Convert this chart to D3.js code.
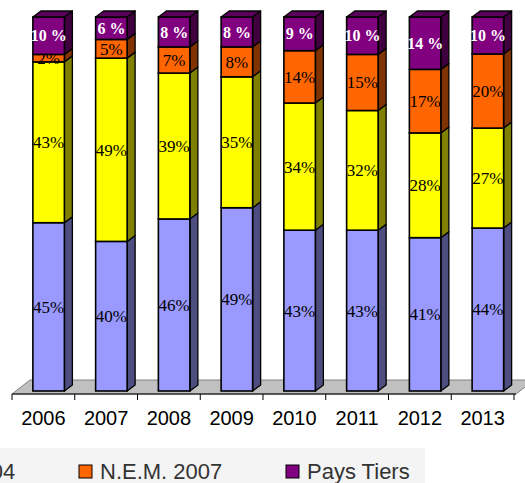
<!DOCTYPE html>
<html>
<meta charset="utf-8">
<style>
body { margin: 0; background: #fff; }
svg { display: block; }
text.year { font-family: 'Liberation Sans', Arial, sans-serif; font-size: 20px; fill: #000; }
text.value { font-family: 'Liberation Serif', 'Times New Roman', serif; font-size: 17px; fill: #000; }
text.value.top { font-weight: bold; font-size: 16px; fill: #fff; }
text.legend { font-family: 'Liberation Sans', Arial, sans-serif; font-size: 22px; fill: #333; }
</style>
<body>
<svg width="525" height="483"></svg>
<script src="https://cdn.jsdelivr.net/npm/d3@7"></script>
<script>

// years on the axis
var years = ["2006", "2007", "2008", "2009", "2010", "2011", "2012", "2013"];

// series, bottom to top
var seriesNames = ["Nationaux", "N.E.M. 2004", "N.E.M. 2007", "Pays Tiers"];
var nationaux = [45, 40, 46, 49, 43, 43, 41, 44];
var nem2004   = [43, 49, 39, 35, 34, 32, 28, 27];
var nem2007   = [2, 5, 7, 8, 14, 15, 17, 20];
var paysTiers = [10, 6, 8, 8, 9, 10, 14, 10];

var frontColors = ["#9999FF", "#FFFF00", "#FF6600", "#800080"];
var sideColors  = ["#4D4D80", "#808000", "#803300", "#400040"];

var svg = d3.select("svg");

var x = d3.scaleBand().domain(years).range([12, 514]).padding(0);
var y = d3.scaleLinear().domain([0, 1]).range([391, 17]);

var depth = {dx: 8, dy: -6};
var floorDepth = {dx: 18, dy: -14};
var barW = 31.5;

// table built from the series arrays
var values = [nationaux, nem2004, nem2007, paysTiers];
var table = years.map(function(yr, i) {
  var row = {year: yr};
  seriesNames.forEach(function(s, j) { row[s] = values[j][i]; });
  return row;
});

var stack = d3.stack().keys(seriesNames).offset(d3.stackOffsetExpand);
var stacked = stack(table);

// floor
var fy = 394, fx0 = x.range()[0], fx1 = x.range()[1] + 2;
svg.append("path")
  .attr("d", "M" + fx0 + "," + fy + "L" + fx1 + "," + fy +
        "L" + (fx1 + floorDepth.dx) + "," + (fy + floorDepth.dy) +
        "L" + (fx0 + floorDepth.dx) + "," + (fy + floorDepth.dy) + "Z")
  .attr("fill", "#C0C0C0")
  .attr("stroke", "#808080")
  .attr("stroke-width", 1);

// axis
var axis = svg.append("g").attr("transform", "translate(0," + fy + ")");
axis.append("line").attr("x1", fx0).attr("x2", fx1).attr("stroke", "#000").attr("stroke-width", 1.2);
var bounds = years.map(function(d) { return x(d); }).concat([x.range()[1]]);
axis.selectAll("line.tick").data(bounds).enter().append("line")
  .attr("class", "tick")
  .attr("x1", function(d) { return d; }).attr("x2", function(d) { return d; })
  .attr("y1", 0).attr("y2", 6)
  .attr("stroke", "#000");
axis.selectAll("text.year").data(years).enter().append("text")
  .attr("class", "year")
  .attr("x", function(d) { return x(d) + x.bandwidth() / 2; })
  .attr("y", 31)
  .attr("text-anchor", "middle")
  .text(function(d) { return d; });

// bars
years.forEach(function(yr, i) {
  var g = svg.append("g");
  var x0 = x(yr) + x.bandwidth() / 2 - 10.5;
  stacked.forEach(function(layer, j) {
    var seg = layer[i];
    var y0 = y(seg[0]), y1 = y(seg[1]);
    g.append("path")
      .attr("d", "M" + (x0 + barW) + "," + y1 +
            "L" + (x0 + barW + depth.dx) + "," + (y1 + depth.dy) +
            "L" + (x0 + barW + depth.dx) + "," + (y0 + depth.dy) +
            "L" + (x0 + barW) + "," + y0 + "Z")
      .attr("fill", sideColors[j])
      .attr("stroke", "#000").attr("stroke-width", 1.3).attr("stroke-linejoin", "round");
    g.append("rect")
      .attr("x", x0).attr("y", y1)
      .attr("width", barW).attr("height", y0 - y1)
      .attr("fill", frontColors[j])
      .attr("stroke", "#000").attr("stroke-width", 1.6);
    var top = j === seriesNames.length - 1;
    g.append("text")
      .attr("class", top ? "value top" : "value")
      .attr("x", x0 + barW / 2)
      .attr("y", (y0 + y1) / 2)
      .attr("dy", "0.35em")
      .attr("text-anchor", "middle")
      .text(values[j][i] + (top ? " %" : "%"));
    if (top) {
      g.append("path")
        .attr("d", "M" + x0 + "," + y1 + "L" + (x0 + barW) + "," + y1 +
              "L" + (x0 + barW + depth.dx) + "," + (y1 + depth.dy) +
              "L" + (x0 + depth.dx) + "," + (y1 + depth.dy) + "Z")
        .attr("fill", "#5A005A")
        .attr("stroke", "#000").attr("stroke-width", 1.3).attr("stroke-linejoin", "round");
    }
  });
});

// legend
svg.append("rect").attr("x", 0).attr("y", 448).attr("width", 425).attr("height", 35).attr("fill", "#F4F4F4");
var leg = svg.selectAll("g.leg").data(seriesNames).enter().append("g")
  .attr("class", "leg")
  .attr("transform", function(d, i) { return "translate(" + (79 + (i - 2) * 207) + ",465)"; });
leg.append("rect").attr("width", 13).attr("height", 13)
  .attr("fill", function(d, i) { return frontColors[i]; })
  .attr("stroke", "#000").attr("stroke-width", 1);
leg.append("text").attr("class", "legend").attr("x", 21).attr("y", 14).text(function(d) { return d; });

</script>
</body>
</html>
